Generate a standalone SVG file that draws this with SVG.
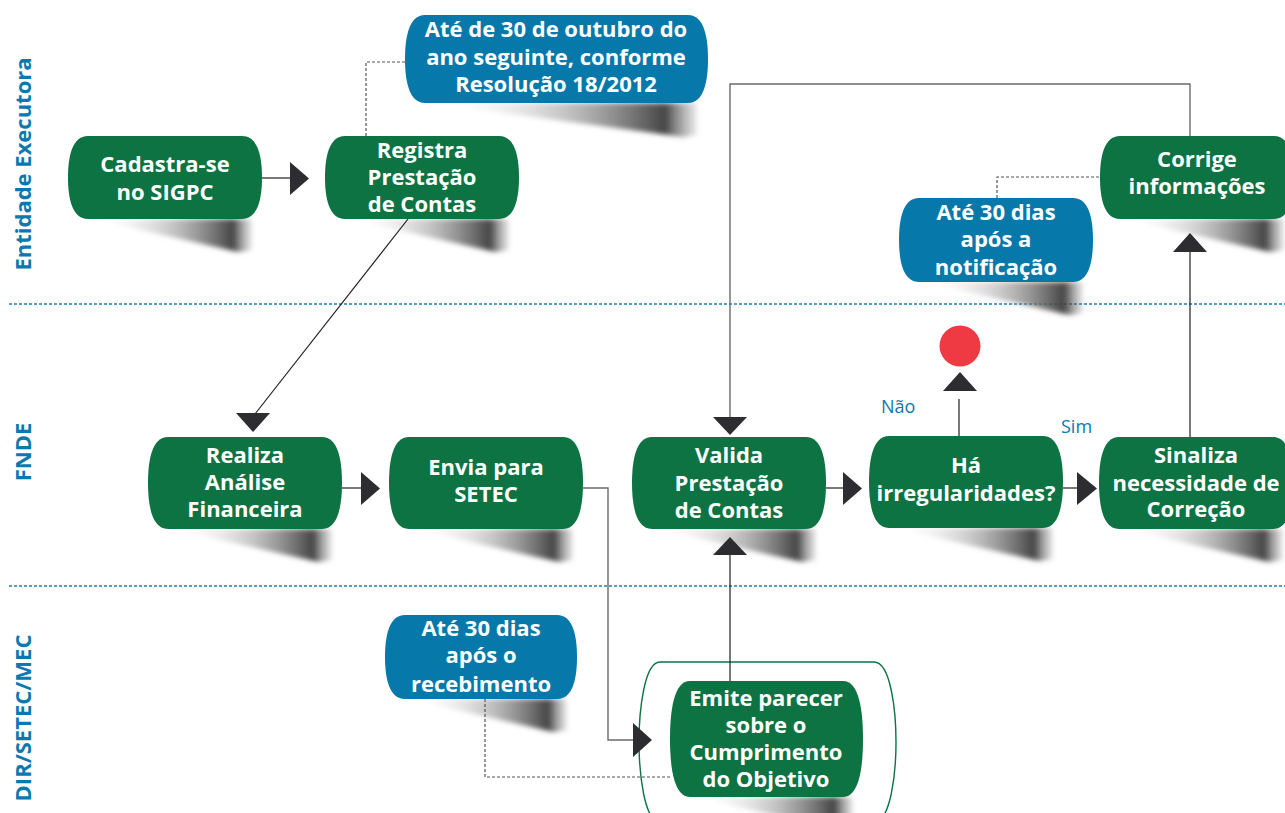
<svg xmlns="http://www.w3.org/2000/svg" width="1285" height="813" viewBox="0 0 1285 813">
<defs>
<linearGradient id="sh" x1="0" y1="0" x2="1" y2="0">
<stop offset="0" stop-color="#ffffff" stop-opacity="0"/>
<stop offset="0.5" stop-color="#a0a0a0" stop-opacity="0.6"/>
<stop offset="0.88" stop-color="#3c3c3c" stop-opacity="0.95"/>
<stop offset="1" stop-color="#777" stop-opacity="0.15"/>
</linearGradient>
<filter id="blur" x="-10%" y="-30%" width="120%" height="160%"><feGaussianBlur stdDeviation="2.4"/></filter>
</defs>
<style>
.g{fill:#0d7343}
.b{fill:#0778aa}
.t{fill:#fff;font-family:"Open Sans","Noto Sans",sans-serif;font-weight:700;font-size:22px;text-anchor:middle}
.lane{fill:#0a79b0;font-family:"Open Sans","Noto Sans",sans-serif;font-weight:700;font-size:22px;text-anchor:middle}
.lbl{fill:#0a79b0;font-family:"Open Sans","Noto Sans",sans-serif;font-size:18px}
.sep{stroke:#1a7fb5;stroke-width:1.4;stroke-dasharray:3 2;fill:none}
.ln{stroke:#1e1e1e;stroke-width:1.2;fill:none}
.gl{stroke:#6b6b6b;stroke-width:1.4;fill:none}
.ds{stroke:#555;stroke-width:1.2;stroke-dasharray:3 2;fill:none}
.ah{fill:#2d2c31}
.shd{fill:url(#sh);filter:url(#blur)}
</style>

<g id="lanes">
<line class="sep" x1="9" y1="304" x2="1285" y2="304"/>
<line class="sep" x1="9" y1="586" x2="1285" y2="586"/>
<text class="lane" transform="translate(31,164) rotate(-90)">Entidade Executora</text>
<text class="lane" transform="translate(31,452) rotate(-90)">FNDE</text>
<text class="lane" transform="translate(31,718) rotate(-90)">DIR/SETEC/MEC</text>
</g>

<g id="end">
<circle cx="960" cy="346" r="20.5" fill="#ef3a43"/>
</g>

<g id="n-cadastra" transform="translate(68,136)">
<polygon class="shd" points="24,83 184,83 184,114 170,116"/>
<path class="g" d="M20 0H174C190 0 194 20.75 194 41.5C194 62.25 190 83 174 83H20C4 83 0 62.25 0 41.5C0 20.75 4 0 20 0Z"/>
<text class="t" x="97" y="36">Cadastra-se</text>
<text class="t" x="97" y="64">no SIGPC</text>
</g>

<g id="n-registra" transform="translate(325,136)">
<polygon class="shd" points="24,83 184,83 184,114 170,116"/>
<path class="g" d="M20 0H174C190 0 194 20.75 194 41.5C194 62.25 190 83 174 83H20C4 83 0 62.25 0 41.5C0 20.75 4 0 20 0Z"/>
<text class="t" x="97" y="22">Registra</text>
<text class="t" x="97" y="49">Prestação</text>
<text class="t" x="97" y="76">de Contas</text>
</g>

<g id="b-prazo1" transform="translate(405,15)">
<polygon class="shd" points="24,88 292,88 292,120 278,122"/>
<path class="b" d="M20 0H283C299 0 303 22 303 44C303 66 299 88 283 88H20C4 88 0 66 0 44C0 22 4 0 20 0Z"/>
<text class="t" x="151" y="22">Até de 30 de outubro do</text>
<text class="t" x="151" y="50">ano seguinte, conforme</text>
<text class="t" x="151" y="77">Resolução 18/2012</text>
</g>

<g id="n-corrige" transform="translate(1100,136)">
<polygon class="shd" points="24,83 184,83 184,114 170,116"/>
<path class="g" d="M20 0H174C190 0 194 20.75 194 41.5C194 62.25 190 83 174 83H20C4 83 0 62.25 0 41.5C0 20.75 4 0 20 0Z"/>
<text class="t" x="97" y="31">Corrige</text>
<text class="t" x="97" y="58">informações</text>
</g>

<g id="b-prazo2" transform="translate(899,198)">
<polygon class="shd" points="24,84 184,84 184,115 170,117"/>
<path class="b" d="M20 0H174C190 0 194 21 194 42C194 63 190 84 174 84H20C4 84 0 63 0 42C0 21 4 0 20 0Z"/>
<text class="t" x="97" y="22">Até 30 dias</text>
<text class="t" x="97" y="49">após a</text>
<text class="t" x="97" y="77">notificação</text>
</g>

<g id="n-realiza" transform="translate(148,437)">
<polygon class="shd" points="24,92 184,92 184,123 170,125"/>
<path class="g" d="M20 0H174C190 0 194 23 194 46C194 69 190 92 174 92H20C4 92 0 69 0 46C0 23 4 0 20 0Z"/>
<text class="t" x="97" y="26">Realiza</text>
<text class="t" x="97" y="53">Análise</text>
<text class="t" x="97" y="80">Financeira</text>
</g>

<g id="n-envia" transform="translate(389,437)">
<polygon class="shd" points="24,92 184,92 184,123 170,125"/>
<path class="g" d="M20 0H174C190 0 194 23 194 46C194 69 190 92 174 92H20C4 92 0 69 0 46C0 23 4 0 20 0Z"/>
<text class="t" x="97" y="38">Envia para</text>
<text class="t" x="97" y="65">SETEC</text>
</g>

<g id="n-valida" transform="translate(632,437)">
<polygon class="shd" points="24,92 184,92 184,123 170,125"/>
<path class="g" d="M20 0H174C190 0 194 23 194 46C194 69 190 92 174 92H20C4 92 0 69 0 46C0 23 4 0 20 0Z"/>
<text class="t" x="97" y="26">Valida</text>
<text class="t" x="97" y="54">Prestação</text>
<text class="t" x="97" y="81">de Contas</text>
</g>

<g id="n-ha" transform="translate(869,436)">
<polygon class="shd" points="24,92 184,92 184,123 170,125"/>
<path class="g" d="M20 0H174C190 0 194 23 194 46C194 69 190 92 174 92H20C4 92 0 69 0 46C0 23 4 0 20 0Z"/>
<text class="t" x="97" y="37">Há</text>
<text class="t" x="97" y="65">irregularidades?</text>
</g>

<g id="n-sinaliza" transform="translate(1099,437)">
<polygon class="shd" points="24,92 184,92 184,123 170,125"/>
<path class="g" d="M20 0H174C190 0 194 23 194 46C194 69 190 92 174 92H20C4 92 0 69 0 46C0 23 4 0 20 0Z"/>
<text class="t" x="97" y="26">Sinaliza</text>
<text class="t" x="97" y="54">necessidade de</text>
<text class="t" x="97" y="80">Correção</text>
</g>

<g id="b-prazo3" transform="translate(385,615)">
<polygon class="shd" points="24,84 182,84 182,115 168,117"/>
<path class="b" d="M20 0H172C188 0 192 21 192 42C192 63 188 84 172 84H20C4 84 0 63 0 42C0 21 4 0 20 0Z"/>
<text class="t" x="96" y="21">Até 30 dias</text>
<text class="t" x="96" y="48">após o</text>
<text class="t" x="96" y="77">recebimento</text>
</g>

<g id="n-emite">
<path d="M660 662H874C891 662 896 712 896 742C896 772 891 822 874 822H660C644 822 639 772 639 742C639 712 644 662 660 662Z" fill="none" stroke="#0d7343" stroke-width="1.4"/>
<g transform="translate(670,681)">
<polygon class="shd" points="24,116 183,116 183,147 169,149"/>
<path class="g" d="M20 0H173C189 0 193 29 193 58C193 87 189 116 173 116H20C4 116 0 87 0 58C0 29 4 0 20 0Z"/>
<text class="t" x="96" y="25">Emite parecer</text>
<text class="t" x="96" y="52">sobre o</text>
<text class="t" x="96" y="79">Cumprimento</text>
<text class="t" x="96" y="106">do Objetivo</text>
</g>
</g>

<g id="connectors">
<line class="ln" x1="262" y1="178" x2="291" y2="178"/>
<polygon class="ah" points="290,162 309,178.5 290,195"/>
<line class="ln" x1="408" y1="219" x2="255" y2="414"/>
<polygon class="ah" points="236,413 270,413 253,432"/>
<line class="ln" x1="342" y1="488" x2="362" y2="488"/>
<polygon class="ah" points="361,472 380,488.5 361,505"/>
<polyline class="gl" points="583,488 608,488 608,740 634,740"/>
<polygon class="ah" points="633,723 652,740 633,757"/>
<line class="ln" x1="730" y1="681" x2="730" y2="554"/>
<polygon class="ah" points="713,555 747,555 730,537"/>
<polyline class="gl" points="1190,136 1190,84 730,84 730,418"/>
<polygon class="ah" points="713,417 747,417 730,435"/>
<line class="ln" x1="826" y1="488" x2="844" y2="488"/>
<polygon class="ah" points="843,472 862,488.5 843,505"/>
<line class="ln" x1="1063" y1="488" x2="1078" y2="488"/>
<polygon class="ah" points="1077,472 1097,488.5 1077,505"/>
<line class="ln" x1="959" y1="436" x2="959" y2="399"/>
<polygon class="ah" points="943,391 977,391 960,372"/>
<line class="ln" x1="1190" y1="437" x2="1190" y2="251"/>
<polygon class="ah" points="1173,252 1207,252 1190,233"/>
<polyline class="ds" points="366,136 366,62 405,62"/>
<polyline class="ds" points="997,198 997,177 1100,177"/>
<polyline class="ds" points="485,699 485,777 670,777"/>
<text class="lbl" x="881" y="413">Não</text>
<text class="lbl" x="1061" y="433">Sim</text>
</g>
</svg>
